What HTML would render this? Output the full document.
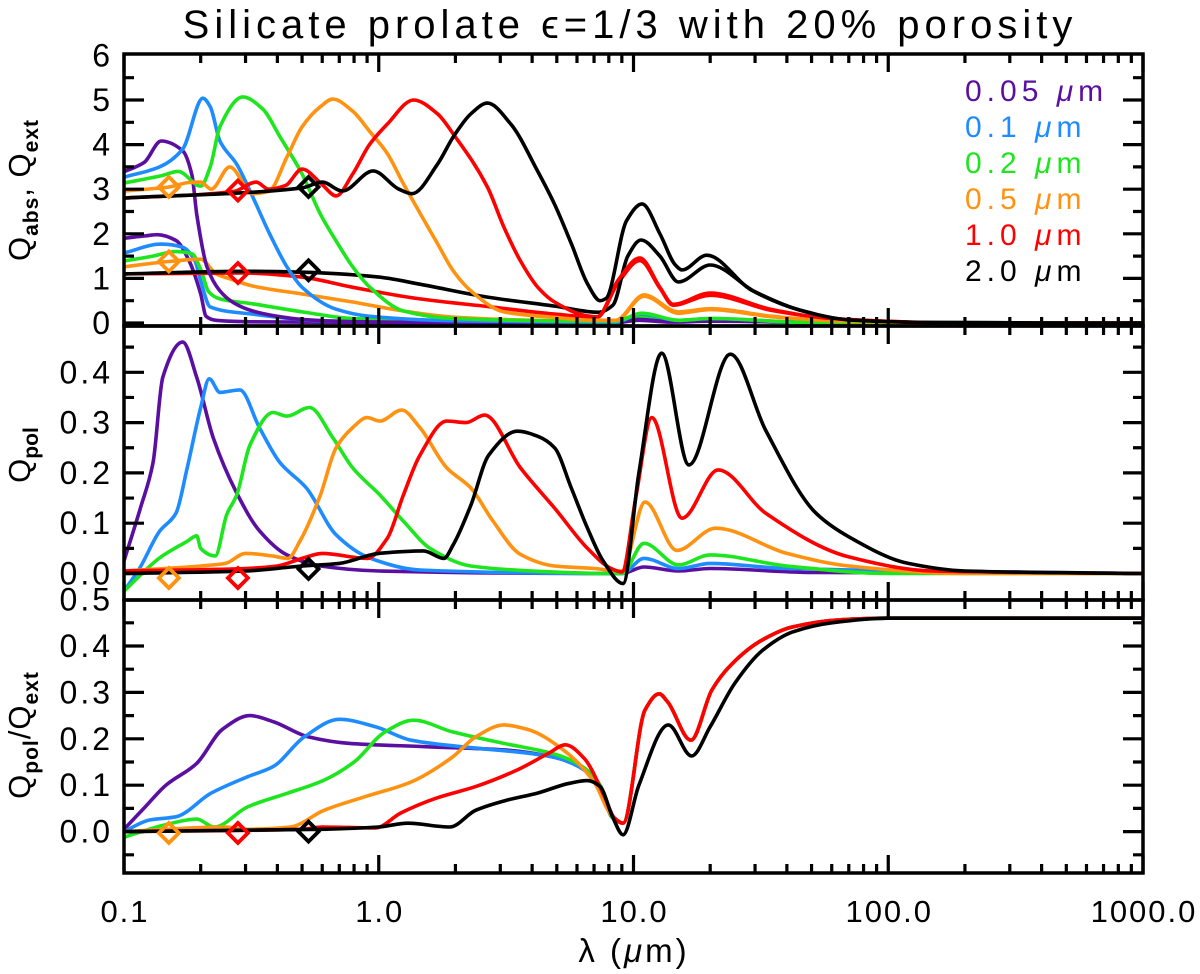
<!DOCTYPE html>
<html><head><meta charset="utf-8">
<style>
html,body{margin:0;padding:0;background:#fff;}
svg{display:block;font-family:"Liberation Sans",sans-serif;}
</style></head>
<body>
<svg id="chart" width="1200" height="974" viewBox="0 0 1200 974" xmlns="http://www.w3.org/2000/svg">
<text x="630" y="38" font-size="40" letter-spacing="5" text-anchor="middle">Silicate prolate ϵ=1/3 with 20% porosity</text>
<g id="plots"></g>
<g id="axes"></g>
<g font-size="30" letter-spacing="5">
<text x="965" y="101" fill="#5b0fa0">0.05 <tspan font-style="italic">μ</tspan>m</text>
<text x="965" y="137" fill="#1e8cff">0.1 <tspan font-style="italic">μ</tspan>m</text>
<text x="965" y="173" fill="#1ee61e">0.2 <tspan font-style="italic">μ</tspan>m</text>
<text x="965" y="209" fill="#ff9210">0.5 <tspan font-style="italic">μ</tspan>m</text>
<text x="965" y="245" fill="#ff0000">1.0 <tspan font-style="italic">μ</tspan>m</text>
<text x="965" y="281" fill="#000">2.0 <tspan font-style="italic">μ</tspan>m</text>
</g>
<text transform="translate(30,190) rotate(-90)" font-size="31" letter-spacing="1" text-anchor="middle">Q<tspan font-size="21" font-weight="bold" dy="8">abs</tspan><tspan dy="-8">, Q</tspan><tspan font-size="21" font-weight="bold" dy="8">ext</tspan></text>
<text transform="translate(30,455) rotate(-90)" font-size="31" text-anchor="middle">Q<tspan font-size="21" font-weight="bold" dy="8">pol</tspan></text>
<text transform="translate(30,735) rotate(-90)" font-size="31" letter-spacing="1" text-anchor="middle">Q<tspan font-size="21" font-weight="bold" dy="8">pol</tspan><tspan dy="-8">/Q</tspan><tspan font-size="21" font-weight="bold" dy="8">ext</tspan></text>
<text x="634" y="962" font-size="33" letter-spacing="3" text-anchor="middle">λ (<tspan font-style="italic">μ</tspan>m)</text>
</svg>
<script>
// ---- data ----
const sizes = ["0.05","0.1","0.2","0.5","1.0","2.0"];
const colors = ["#5b0fa0","#1e8cff","#1ee61e","#ff9210","#ff0000","#000000"];
const xTickLabels = ["0.1","1.0","10.0","100.0","1000.0"];
const xTickValues = [0.1,1,10,100,1000];
const topTicks = [0,1,2,3,4,5,6];
const midTicks = [0,0.1,0.2,0.3,0.4];
const botTicks = [0,0.1,0.2,0.3,0.4,0.5];

// Q_ext
const extLam0 = [0.1,0.12,0.14,0.17,0.185,0.193,0.212,0.238,0.27,0.32,0.4,0.5,0.8,2,7,8.5,10.5,14,20,50,1000];
const extVal0 = [3.39,3.6,4.08,3.86,3.3,2.44,1.25,0.72,0.45,0.27,0.15,0.08,0.03,0.01,0.02,0.02,0.08,0.03,0.05,0.01,0];
const extLam1 = [0.1,0.138,0.17,0.204,0.218,0.238,0.277,0.32,0.373,0.436,0.5,0.68,0.92,2,7,8.5,10.7,15,20,50,1000];
const extVal1 = [3.27,3.5,3.9,5.04,4.85,4.08,3.56,2.83,2.0,1.26,0.8,0.31,0.15,0.05,0.02,0.02,0.2,0.06,0.1,0.01,0];
const extLam2 = [0.1,0.14,0.163,0.2,0.218,0.238,0.293,0.35,0.41,0.5,0.59,0.68,0.79,0.92,1.25,1.96,7,8.5,10.8,15,20,50,1000];
const extVal2 = [3.14,3.3,3.4,3.07,3.5,4.4,5.07,4.8,4.17,3.34,2.44,1.84,1.26,0.81,0.27,0.1,0.04,0.04,0.22,0.06,0.1,0.01,0];
const extLam3 = [0.1,0.15,0.18,0.2,0.22,0.26,0.32,0.37,0.436,0.5,0.59,0.66,0.79,0.92,1.08,1.25,1.46,1.7,1.96,2.3,3.1,5,7,8.5,11,15,20,35,60,200,1000];
const extVal3 = [2.96,3.05,3.15,3.16,3.0,3.5,2.9,2.95,3.72,4.4,4.85,5.02,4.75,4.3,3.8,3.12,2.44,1.78,1.17,0.72,0.25,0.12,0.06,0.06,0.63,0.25,0.32,0.15,0.05,0,0];
const extLam4 = [0.1,0.27,0.33,0.37,0.43,0.5,0.6,0.68,0.79,0.92,1.08,1.37,1.7,1.96,2.67,3.1,3.6,4.2,4.9,6.6,7.2,8.7,10.6,12.7,14.3,20,35,60,200,1000];
const extVal4 = [2.8,2.95,3.16,3.0,3.08,3.45,3.1,2.85,3.34,4.0,4.46,5.0,4.69,4.24,3.05,2.15,1.39,0.81,0.47,0.16,0.14,0.96,1.46,0.8,0.42,0.67,0.3,0.1,0,0];
const extLam5 = [0.1,0.5,0.6,0.72,0.95,1.2,1.35,1.7,1.96,2.3,2.67,3.3,4.2,4.9,5.7,6.6,7.4,7.8,9.4,10.8,12.7,14.6,15.5,19.4,29,45,70,150,1000];
const extVal5 = [2.8,3.03,3.16,2.96,3.41,3.0,2.9,3.56,4.17,4.69,4.93,4.46,3.41,2.66,1.78,0.88,0.5,0.55,2.3,2.67,2.0,1.3,1.19,1.52,0.74,0.29,0.07,0.01,0];
// Q_abs
const absLam0 = [0.1,0.12,0.135,0.16,0.18,0.2,0.21,0.23,0.3,1,7,8.5,10.5,14,20,100,1000];
const absVal0 = [1.9,1.95,1.98,1.85,1.4,0.65,0.15,0.06,0.03,0.01,0.01,0.01,0.06,0.02,0.04,0,0];
const absLam1 = [0.1,0.14,0.17,0.19,0.2,0.218,0.32,0.59,2,7,8.5,10.7,15,20,50,1000];
const absVal1 = [1.57,1.77,1.7,1.39,0.94,0.36,0.2,0.05,0.02,0.01,0.01,0.15,0.04,0.08,0.01,0];
const absLam2 = [0.1,0.13,0.16,0.185,0.2,0.215,0.238,0.32,0.5,0.79,2,7,8.5,10.8,15,20,50,1000];
const absVal2 = [1.39,1.5,1.6,1.55,1.2,0.7,0.54,0.43,0.25,0.1,0.05,0.03,0.03,0.15,0.05,0.06,0.01,0];
const absLam3 = [0.1,0.15,0.2,0.23,0.26,0.32,0.5,0.79,1.25,1.96,5,8.5,11,15,20,35,60,200,1000];
const absVal3 = [1.26,1.38,1.43,1.1,0.99,0.83,0.65,0.47,0.27,0.13,0.05,0.04,0.6,0.22,0.3,0.14,0.05,0,0];
const absLam4 = [0.1,0.3,0.5,0.79,1.45,2.67,4.9,7.2,8.7,10.6,12.7,14.3,20,35,60,200,1000];
const absVal4 = [1.1,1.12,1.03,0.8,0.54,0.37,0.2,0.13,0.9,1.4,0.78,0.4,0.62,0.28,0.1,0,0];
const absLam5 = [0.1,0.3,0.5,1,1.45,2.67,4.9,7.3,8.3,9.5,10.7,12.7,15,20,30,45,70,150,1000];
const absVal5 = [1.1,1.16,1.14,1.03,0.87,0.58,0.38,0.24,0.4,1.5,1.86,1.5,0.92,1.3,0.7,0.29,0.07,0.01,0];
// Q_pol
const polLam0 = [0.1,0.116,0.13,0.142,0.17,0.193,0.224,0.277,0.34,0.436,0.59,1,7,9,11,15,20,50,1000];
const polVal0 = [0.025,0.13,0.22,0.39,0.46,0.39,0.27,0.16,0.085,0.037,0.015,0.005,0.0,0.0,0.013,0.005,0.01,0.002,0];
const polLam1 = [0.1,0.115,0.138,0.16,0.177,0.2,0.216,0.238,0.285,0.34,0.41,0.52,0.68,0.92,1.45,8,9,11,15,20,40,1000];
const polVal1 = [-0.035,0.01,0.084,0.12,0.21,0.33,0.387,0.36,0.365,0.29,0.22,0.17,0.077,0.031,0.007,0,0,0.03,0.01,0.02,0.01,0];
const polLam2 = [0.1,0.138,0.177,0.193,0.2,0.228,0.253,0.277,0.312,0.385,0.436,0.535,0.66,0.79,1.01,1.25,1.59,2.3,4,8,9,11,15,20,40,100,1000];
const polVal2 = [-0.035,0.031,0.064,0.075,0.05,0.035,0.117,0.156,0.255,0.32,0.313,0.33,0.27,0.21,0.156,0.104,0.05,0.015,0.005,0,0,0.06,0.017,0.037,0.015,0,0];
const polLam3 = [0.1,0.2,0.25,0.3,0.38,0.44,0.49,0.59,0.68,0.79,0.9,1.01,1.23,1.45,1.85,2.3,2.8,3.6,4.9,7,9,11.1,14.8,21,40,70,200,1000];
const polVal3 = [0.005,0.015,0.02,0.04,0.035,0.03,0.064,0.156,0.25,0.29,0.31,0.303,0.325,0.29,0.21,0.17,0.105,0.038,0.015,0.01,0.005,0.142,0.046,0.09,0.04,0.015,0,0];
const polLam4 = [0.1,0.3,0.4,0.5,0.6,0.9,1.08,1.25,1.45,1.85,2.2,2.6,3.6,4.9,6.6,8.1,9.0,10.2,11.8,15.5,21.5,33,70,150,1000];
const polVal4 = [0.005,0.01,0.015,0.03,0.04,0.03,0.07,0.156,0.235,0.303,0.3,0.315,0.21,0.13,0.05,0.011,0.003,0.15,0.31,0.11,0.206,0.12,0.033,0.005,0];
const polLam5 = [0.1,0.3,0.5,0.7,1,1.5,1.8,1.96,2.3,2.7,3.5,4.2,4.9,5.7,6.6,7.6,9.1,10.5,12.9,16.5,24,33,52,70,120,200,1000];
const polVal5 = [0,0.005,0.015,0.02,0.04,0.045,0.03,0.057,0.136,0.235,0.283,0.273,0.25,0.17,0.09,0.025,-0.02,0.2,0.438,0.216,0.436,0.285,0.12,0.073,0.02,0.005,0];
// Q_pol/Q_ext
const tailLam = [9.1,11.1,12.6,13.6,16.8,20.3,24.2,32,42,63,98,1000];
const tailVal = [0.018,0.262,0.297,0.28,0.197,0.305,0.36,0.413,0.441,0.456,0.46,0.46];
const ratLam0 = [0.1,0.121,0.146,0.193,0.243,0.312,0.385,0.53,0.77,1.53,3.1,4.9,6.1,7.4,8.2];
const ratVal0 = [0.005,0.053,0.1,0.147,0.22,0.25,0.237,0.204,0.19,0.183,0.176,0.16,0.14,0.097,0.032];
const ratLam1 = [0.1,0.126,0.16,0.22,0.305,0.385,0.51,0.7,0.97,1.34,2.4,3.85,4.9,6.1,7.4,8.2];
const ratVal1 = [0,0.025,0.032,0.083,0.118,0.14,0.204,0.242,0.226,0.197,0.18,0.169,0.16,0.14,0.097,0.032];
const ratLam2 = [0.1,0.146,0.193,0.226,0.305,0.44,0.61,0.8,1.06,1.37,1.94,3.1,4.9,6.1,7.4,8.2];
const ratVal2 = [-0.012,0.015,0.027,0.01,0.053,0.083,0.111,0.15,0.215,0.24,0.215,0.19,0.167,0.145,0.1,0.032];
const ratLam3 = [0.1,0.25,0.3,0.45,0.61,0.88,1.34,1.94,2.4,3.1,3.85,5.3,7.0,8.2];
const ratVal3 = [0,0.01,0.005,0.01,0.046,0.075,0.107,0.16,0.204,0.23,0.22,0.176,0.107,0.035];
const ratLam4 = [0.1,0.5,0.6,0.97,1.22,1.68,2.4,3.5,4.65,5.4,6.4,7.7,8.4];
const ratVal4 = [0,0.005,0.01,0.008,0.04,0.072,0.097,0.133,0.169,0.187,0.158,0.075,0.03];
const ratLam5 = [0.1,0.6,1.0,1.3,1.9,2.4,3.2,4.2,5.6,6.6,7.4,8.3,9.1,10.5,13.7,16.9,20,25,32,42,60,100,1000];
const ratVal5 = [0,0.005,0.01,0.018,0.01,0.046,0.068,0.083,0.104,0.11,0.097,0.03,-0.007,0.1,0.23,0.163,0.226,0.32,0.39,0.43,0.45,0.46,0.46];
// diamond markers
const markerLam = [0.15,0.28,0.53];
const markerColorIdx = [3,4,5];
const markerExt = [3.05,2.97,3.05];
const markerAbs = [1.38,1.12,1.18];
const markerPol = [-0.009,-0.009,0.009];
const markerRatio = [-0.003,-0.003,0.0];

// ---- axes ----
const NS = "http://www.w3.org/2000/svg";
const X0 = 124, X1 = 1143;
const DEC = (X1 - X0) / 4;
function xs(l){ return X0 + DEC * (Math.log10(l) + 1); }
const panels = [
  {name:"top", top:54, bot:326, y:function(v){return 323 - 44.6*v;}, ticks:topTicks, minor:0.5, fmt:function(v){return String(v);}, lo:-0.1, hi:6.1},
  {name:"middle", top:326, bot:600, y:function(v){return 573.5 - 503*v;}, ticks:midTicks, minor:0.05, fmt:function(v){return v.toFixed(1);}, lo:-0.06, hi:0.5},
  {name:"bottom", top:600, bot:873, y:function(v){return 831.6 - 464*v;}, ticks:botTicks, minor:0.05, fmt:function(v){return v.toFixed(1);}, lo:-0.1, hi:0.5}
];
const plots = document.getElementById('plots');
const axes = document.getElementById('axes');
function mk(tag, attrs, parent){
  const e = document.createElementNS(NS, tag);
  for (const k in attrs) e.setAttribute(k, attrs[k]);
  parent.appendChild(e);
  return e;
}
function pathFor(lams, vals, yf){
  const px = lams.map(xs), py = vals.map(yf);
  const n = px.length;
  const d = [], m = [];
  for (let i=0;i<n-1;i++) d.push((py[i+1]-py[i])/(px[i+1]-px[i]));
  for (let i=0;i<n;i++){
    if (i===0) m.push(d[0]);
    else if (i===n-1) m.push(d[n-2]);
    else if (d[i-1]*d[i] <= 0) m.push(0);
    else { const h0=px[i]-px[i-1], h1=px[i+1]-px[i]; const w1=2*h1+h0, w2=h1+2*h0; m.push((w1+w2)/(w1/d[i-1]+w2/d[i])); }
  }
  let s = "M"+px[0].toFixed(1)+","+py[0].toFixed(1);
  for (let i=0;i<n-1;i++){
    const h = px[i+1]-px[i];
    s += " C"+(px[i]+h/3).toFixed(1)+","+(py[i]+m[i]*h/3).toFixed(1)+" "+(px[i+1]-h/3).toFixed(1)+","+(py[i+1]-m[i+1]*h/3).toFixed(1)+" "+px[i+1].toFixed(1)+","+py[i+1].toFixed(1);
  }
  return s;
}
const defs = mk('defs', {}, document.getElementById('chart'));
panels.forEach(function(p, i){
  const cp = mk('clipPath', {id:'clip'+i}, defs);
  mk('rect', {x:X0, y:p.top, width:X1-X0, height:p.bot-p.top}, cp);
});
const seriesSets = [
  {panel:0, kind:"qabs", lams:[absLam0,absLam1,absLam2,absLam3,absLam4,absLam5], vals:[absVal0,absVal1,absVal2,absVal3,absVal4,absVal5]},
  {panel:0, kind:"qext", lams:[extLam0,extLam1,extLam2,extLam3,extLam4,extLam5], vals:[extVal0,extVal1,extVal2,extVal3,extVal4,extVal5]},
  {panel:1, kind:"qpol", lams:[polLam0,polLam1,polLam2,polLam3,polLam4,polLam5], vals:[polVal0,polVal1,polVal2,polVal3,polVal4,polVal5]},
  {panel:2, kind:"ratio", lams:[ratLam0.concat(tailLam),ratLam1.concat(tailLam),ratLam2.concat(tailLam),ratLam3.concat(tailLam),ratLam4.concat(tailLam),ratLam5], vals:[ratVal0.concat(tailVal),ratVal1.concat(tailVal),ratVal2.concat(tailVal),ratVal3.concat(tailVal),ratVal4.concat(tailVal),ratVal5]}
];
seriesSets.forEach(function(set){
  const p = panels[set.panel];
  const g = mk('g', {'clip-path':'url(#clip'+set.panel+')'}, plots);
  
  
  for (let i=0;i<6;i++){
    const path = mk('path', {d:pathFor(set.lams[i], set.vals[i], p.y), fill:'none', stroke:colors[i], 'stroke-width':3.6, 'stroke-linejoin':'round'}, g);
    
    
  }
});
const markerSets = [[0,markerExt],[0,markerAbs],[1,markerPol],[2,markerRatio]];
markerSets.forEach(function(ms, k){
  const p = panels[ms[0]];
  for (let i=0;i<markerLam.length;i++){
    const cx = xs(markerLam[i]), cy = p.y(ms[1][i]), r = 10;
    const dm = mk('path', {d:"M"+cx+","+(cy-r)+" L"+(cx+r)+","+cy+" L"+cx+","+(cy+r)+" L"+(cx-r)+","+cy+" Z", fill:'none', stroke:colors[markerColorIdx[i]], 'stroke-width':3.8}, plots);
    
    
  }
});
panels.forEach(function(p, pi){
  const fr = mk('rect', {x:X0, y:p.top, width:X1-X0, height:p.bot-p.top, fill:'none', stroke:'#000', 'stroke-width':3.5}, axes);
  
  
  let d = "";
  for (let e=-1;e<3;e++){
    for (let k=1;k<10;k++){
      const x = xs(k*Math.pow(10,e));
      const len = k===1 ? 18 : 9;
      d += "M"+x+","+p.bot+" v"+(-len)+" M"+x+","+p.top+" v"+len+" ";
    }
  }
  d += "M"+X1+","+p.bot+" v-18 M"+X1+","+p.top+" v18 ";
  for (let v=Math.ceil(p.lo/p.minor)*p.minor; v<=p.hi+1e-9; v+=p.minor){
    const y = p.y(v);
    if (y < p.top+2 || y > p.bot-2) continue;
    const isMajor = Math.abs(v/ (p.minor*2) - Math.round(v/(p.minor*2))) < 1e-6;
    const len = isMajor ? 20 : 10;
    d += "M"+X0+","+y+" h"+len+" M"+X1+","+y+" h"+(-len)+" ";
  }
  const tk = mk('path', {d:d, stroke:'#000', 'stroke-width':3.2, fill:'none'}, axes);
  
  
  p.ticks.forEach(function(v){
    const t = mk('text', {x:113, y:p.y(v)+11, 'font-size':32, 'letter-spacing':3, 'text-anchor':'end'}, axes);
    t.textContent = p.fmt(v);
    
    
  });
});
xTickValues.forEach(function(v, i){
  const t = mk('text', {x:xs(v)+1, y:922, 'font-size':31, 'letter-spacing':2, 'text-anchor':'middle'}, axes);
  t.textContent = xTickLabels[i];
  
  
});
</script>
</body></html>
